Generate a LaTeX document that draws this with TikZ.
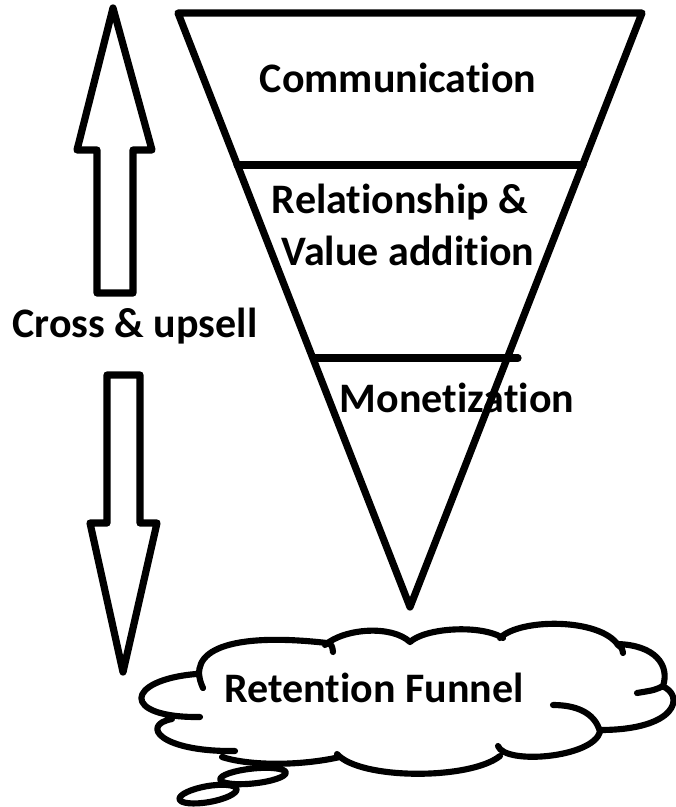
\documentclass[tikz,border=0pt]{standalone}
\usepackage{fontspec}
\setmainfont{Carlito}[RawFeature={-liga}]
\begin{document}
\begin{tikzpicture}[x=0.75pt,y=-0.75pt,
  heavy/.style={line width=5.4pt, line join=round, line cap=round},
  cloudline/.style={line width=4.6pt, line cap=round, line join=round},
  lbl/.style={font=\bfseries\fontsize{31.5}{38}\selectfont, inner sep=0pt, anchor=base}]
\useasboundingbox (0,0) rectangle (675,807);
% funnel
\coordinate (ftl) at (178,13);
\coordinate (ftr) at (642,13);
\coordinate (fap) at (410,607);
\draw[heavy] (ftl) -- (ftr) -- (fap) -- cycle;
\coordinate (d1l) at (237,165);
\coordinate (d1r) at (583,165);
\draw[heavy] (d1l) -- (d1r);
\coordinate (d2l) at (313,358);
\coordinate (d2r) at (518,358);
\draw[heavy] (d2l) -- (d2r);
% up arrow
\draw[heavy] (113,8) -- (152,150) -- (133,150) -- (133,293) -- (97,293) -- (97,150) -- (77,150) -- cycle;
% down arrow
\draw[heavy] (107,375) -- (140,375) -- (140,523) -- (157,523) -- (123,672) -- (90,523) -- (107,523) -- cycle;
% cloud
\draw[cloudline]
  (203,688) .. controls (185,650) and (230,632) .. (327,643) .. controls (332,645) .. (333,652)
  (325,645) .. controls (345,628) and (392,625) .. (410,642)
  (410,642) .. controls (425,628) and (480,624) .. (503,638)
  (500,638) .. controls (520,618) and (600,618) .. (618,645) .. controls (622,648) .. (623,653)
  (617,644) .. controls (655,645) and (670,665) .. (663,686) .. controls (655,690) .. (637,693)
  (662,686) .. controls (685,695) and (678,730) .. (600,730)
  (553,705) .. controls (575,705) and (595,712) .. (600,732)
  .. controls (592,758) and (505,765) .. (498,746)
  (500,756) .. controls (470,780) and (360,780) .. (337,754)
  (340,757) .. controls (300,766) and (250,766) .. (222,757)
  (235,751) .. controls (160,752) and (140,725) .. (172,719)
  (200,717) .. controls (120,718) and (125,680) .. (196,674);
\coordinate (b1) at (253,776);
\coordinate (b2) at (208,794);
\draw[cloudline, rotate around={6:(b1)}] (b1) ellipse [x radius=24.75pt, y radius=5.6pt];
\draw[cloudline, rotate around={10:(b2)}] (b2) ellipse [x radius=21.75pt, y radius=6pt];
% labels
\node[lbl] (comm) at (398,92) {Communication};
\node[lbl] (rel1) at (400,213) {Relationship \&};
\node[lbl] (rel2) at (408,265) {Value addition};
\node[lbl] (mon) at (457,412) {Monetization};
\node[lbl] (cross) at (135,337) {Cross \& upsell};
\node[lbl] (ret) at (374,702) {Retention Funnel};
\end{tikzpicture}
\end{document}
